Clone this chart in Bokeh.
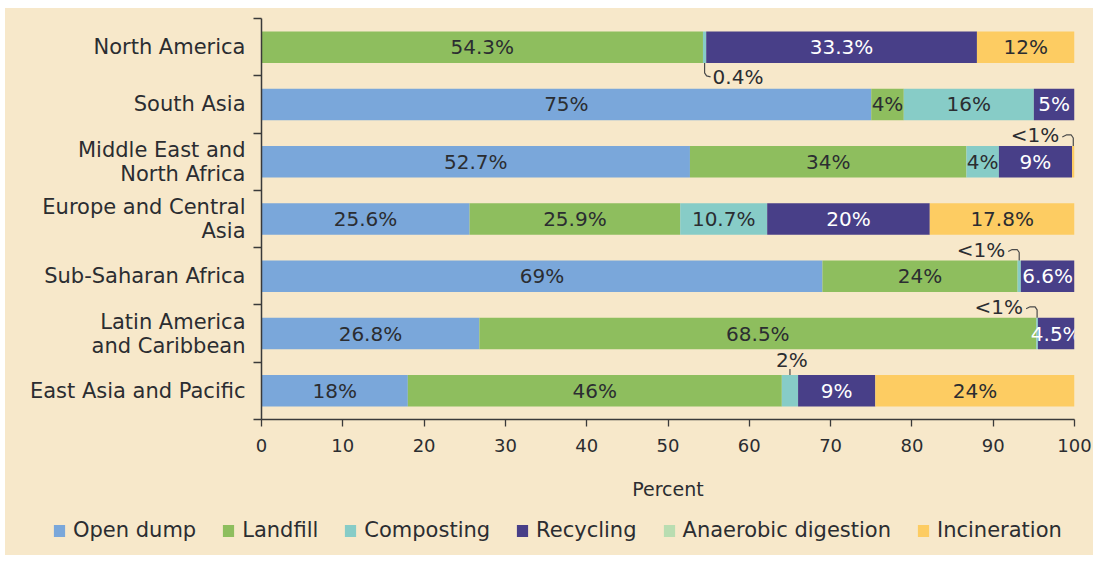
from bokeh.plotting import figure
from bokeh.models import Range1d, FixedTicker, Legend, LegendItem, ColumnDataSource, Spacer
from bokeh.layouts import column, row
from bokeh.core.properties import value
from bokeh.embed import file_html
from bokeh.resources import INLINE

# ---------------- data ----------------
regions = ["North America", "South Asia", "Middle East and North Africa",
           "Europe and Central Asia", "Sub-Saharan Africa",
           "Latin America and Caribbean", "East Asia and Pacific"]
region_labels = ["North America", "South Asia", "Middle East and\nNorth Africa",
                 "Europe and Central\nAsia", "Sub-Saharan Africa",
                 "Latin America\nand Caribbean", "East Asia and Pacific"]

series = ["Open dump", "Landfill", "Composting", "Recycling",
          "Anaerobic digestion", "Incineration"]
colors = ["#7AA7DA", "#8EBE5E", "#87CCC7", "#483F88", "#B9DDB1", "#FDCC62"]

open_dump    = [0.0, 75.0, 52.7, 25.6, 69.0, 26.8, 18.0]
landfill     = [54.3, 4.0, 34.0, 25.9, 24.0, 68.5, 46.0]
composting   = [0.4, 16.0, 4.0, 10.7, 0.4, 0.2, 2.0]
recycling    = [33.3, 5.0, 9.0, 20.0, 6.6, 4.5, 9.5]
anaerobic    = [0.0, 0.0, 0.0, 0.0, 0.0, 0.0, 0.0]
incineration = [12.0, 0.0, 0.3, 17.8, 0.0, 0.0, 24.5]

open_dump_lbl    = ["", "75%", "52.7%", "25.6%", "69%", "26.8%", "18%"]
landfill_lbl     = ["54.3%", "4%", "34%", "25.9%", "24%", "68.5%", "46%"]
composting_lbl   = ["", "16%", "4%", "10.7%", "", "", ""]
recycling_lbl    = ["33.3%", "5%", "9%", "20%", "6.6%", "4.5%", "9%"]
anaerobic_lbl    = ["", "", "", "", "", "", ""]
incineration_lbl = ["12%", "", "", "17.8%", "", "", "24%"]

callout_region = ["North America", "Middle East and North Africa", "Sub-Saharan Africa",
                  "Latin America and Caribbean", "East Asia and Pacific"]
callout_series = ["Composting", "Incineration", "Composting", "Composting", "Composting"]
callout_text   = ["0.4%", "<1%", "<1%", "<1%", "2%"]
callout_side   = ["below", "left", "left", "left", "above"]

x_ticks = [0, 10, 20, 30, 40, 50, 60, 70, 80, 90, 100]

values = {"Open dump": open_dump, "Landfill": landfill, "Composting": composting,
          "Recycling": recycling, "Anaerobic digestion": anaerobic,
          "Incineration": incineration}
labels = {"Open dump": open_dump_lbl, "Landfill": landfill_lbl,
          "Composting": composting_lbl, "Recycling": recycling_lbl,
          "Anaerobic digestion": anaerobic_lbl, "Incineration": incineration_lbl}

# ---------------- layout constants ----------------
BG = "#F7E8CA"
FONT = "DejaVu Sans"
TXT = "#2b2d31"
AX = "#3a3a3a"
BAR_H = 0.55
W = 1088
H_MAIN, H_LEG = 501, 46
FRAME_W, FRAME_H = 813, 401
MB_L, MB_T = 256, 10
XPX = 100.0 / FRAME_W
YPX = 7.0 / FRAME_H

n = len(regions)
y_centers = [n - i - 0.5 for i in range(n)]
boundaries = [float(k) for k in range(n + 1)]

p = figure(width=W, height=H_MAIN, output_backend="svg", toolbar_location=None,
           x_range=Range1d(0, 100), y_range=Range1d(0, n),
           min_border_left=MB_L, min_border_top=MB_T,
           min_border_right=W - MB_L - FRAME_W,
           min_border_bottom=H_MAIN - MB_T - FRAME_H)
p.frame_align = False
p.background_fill_color = BG
p.border_fill_color = BG
p.outline_line_color = None
p.xgrid.visible = False
p.ygrid.visible = False

src = ColumnDataSource(dict(y=y_centers, **values))
rends = p.hbar_stack(series, y="y", height=BAR_H, color=colors, line_color=None,
                     source=src)

# value labels inside segments
lx, ly, lt, lc = [], [], [], []
for i in range(n):
    start = 0.0
    for s in series:
        v = values[s][i]
        t = labels[s][i]
        if t:
            lx.append(start + v / 2.0)
            ly.append(y_centers[i])
            lt.append(t)
            lc.append("#ffffff" if s == "Recycling" else TXT)
        start += v
p.text(x="x", y="y", text="text", text_color="color",
       source=ColumnDataSource(dict(x=lx, y=ly, text=lt, color=lc)),
       text_font=value(FONT), text_font_size="20px",
       text_align="center", text_baseline="middle")

# callouts
half = BAR_H / 2.0
for reg, ser, txt, side in zip(callout_region, callout_series, callout_text, callout_side):
    i = regions.index(reg)
    j = series.index(ser)
    start = sum(values[s][i] for s in series[:j])
    a = start + values[ser][i] / 2.0
    yc = y_centers[i]
    if side == "below":
        yb = yc - half
        xs = [a, a, a + 2 * XPX, a + 6 * XPX]
        ys = [yb, yb - 10 * YPX, yb - 13 * YPX, yb - 14 * YPX]
        tx, ty, al = a + 8 * XPX, yb - 14 * YPX, "left"
    elif side == "left":
        yt = yc + half
        xs = [a - 11 * XPX, a - 7 * XPX, a - 2 * XPX, a, a]
        ys = [yt + 9 * YPX, yt + 11 * YPX, yt + 11 * YPX, yt + 8 * YPX, yt]
        tx, ty, al = a - 14 * XPX, yt + 11 * YPX, "right"
    else:
        yt = yc + half
        xs = [a, a]
        ys = [yt, yt + 6 * YPX]
        tx, ty, al = a + 2 * XPX, yt + 15 * YPX, "center"
    p.line(xs, ys, line_color="#4a4a4a", line_width=1.2)
    p.text(x=[tx], y=[ty], text=[txt], text_color=TXT,
           text_font=value(FONT), text_font_size="20px",
           text_align=al, text_baseline="middle")

# axes
xa = p.xaxis[0]
xa.ticker = FixedTicker(ticks=x_ticks)
xa.axis_line_color = AX
xa.axis_line_width = 1.5
xa.major_tick_line_color = AX
xa.major_tick_line_width = 1.3
xa.major_tick_out = 7
xa.major_tick_in = 0
xa.minor_tick_line_color = None
xa.major_label_standoff = 12
xa.major_label_text_font = FONT
xa.major_label_text_font_size = "18px"
xa.major_label_text_color = TXT
xa.axis_label = "Percent"
xa.axis_label_text_font = FONT
xa.axis_label_text_font_size = "19px"
xa.axis_label_text_font_style = "normal"
xa.axis_label_text_color = TXT
xa.axis_label_standoff = 23

ya = p.yaxis[0]
ya.ticker = FixedTicker(ticks=y_centers, minor_ticks=boundaries)
ya.major_label_overrides = {yc: lab for yc, lab in zip(y_centers, region_labels)}
ya.axis_line_color = AX
ya.axis_line_width = 1.5
ya.major_tick_out = 0
ya.major_tick_in = 0
ya.major_tick_line_color = None
ya.minor_tick_out = 8
ya.minor_tick_in = 0
ya.minor_tick_line_color = AX
ya.minor_tick_line_width = 1.3
ya.major_label_standoff = 8
ya.major_label_text_font = FONT
ya.major_label_text_font_size = "21px"
ya.major_label_text_color = TXT
ya.major_label_text_line_height = 1.0

# legend in its own strip below the chart
pl = figure(width=W, height=H_LEG, output_backend="svg", toolbar_location=None,
            x_range=Range1d(0, 1), y_range=Range1d(0, 1),
            min_border=0, min_border_left=0, min_border_right=0,
            min_border_top=0, min_border_bottom=0)
pl.frame_align = False
pl.background_fill_color = BG
pl.border_fill_color = BG
pl.outline_line_color = None
pl.axis.visible = False
pl.grid.visible = False
leg_rends = [pl.hbar(y=[0.5], left=[0], right=[0], height=0, color=c, line_color=None)
             for c in colors]
items = [LegendItem(label=s, renderers=[r]) for s, r in zip(series, leg_rends)]
legend = Legend(items=items, orientation="horizontal", location=(47, 13),
                background_fill_alpha=0, border_line_alpha=0, padding=0, margin=0,
                spacing=25, label_standoff=7, glyph_width=14, glyph_height=15,
                label_text_font=FONT, label_text_font_size="21px",
                label_text_color=TXT)
pl.add_layout(legend, "center")

inner = column(p, pl, styles={"background-color": BG})
layout = column(Spacer(height=8), row(Spacer(width=5), inner))
open("out.html", "w").write(file_html(layout, INLINE))
